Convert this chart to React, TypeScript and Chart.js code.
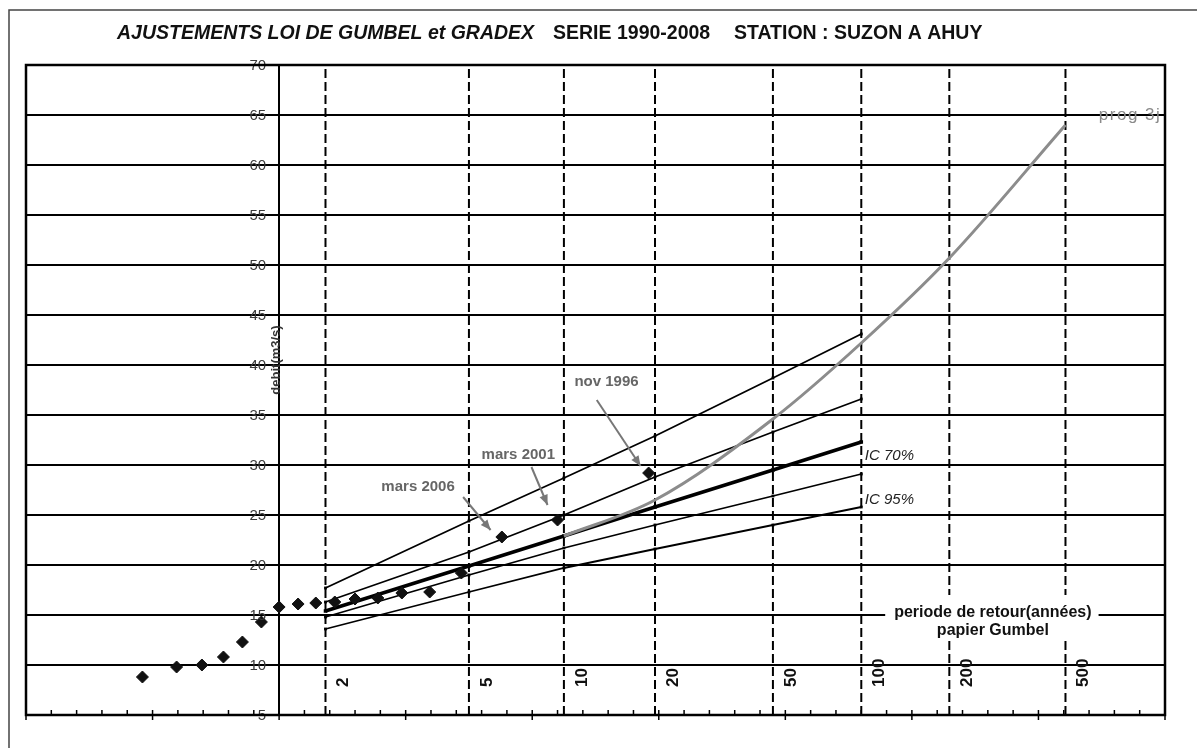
import React, { useEffect, useRef } from 'react';
import { Chart, registerables } from 'chart.js';

Chart.register(...registerables);

// ---------- data ----------
const RETURN_PERIODS = [2, 5, 10, 20, 50, 100, 200, 500];
const RETURN_LABELS = ['2', '5', '10', '20', '50', '100', '200', '500'];

// observed annual maxima (Gumbel reduced variable, discharge m3/s)
const OBS_U = [-1.08, -0.81, -0.61, -0.44, -0.29, -0.14, 0.0, 0.15, 0.29, 0.44, 0.6, 0.78, 0.97, 1.19, 1.44, 1.76, 2.2, 2.92];
const OBS_Q = [8.8, 9.8, 10.0, 10.8, 12.3, 14.3, 15.8, 16.1, 16.2, 16.3, 16.6, 16.7, 17.2, 17.3, 19.2, 22.8, 24.5, 29.2];

// Gumbel fit and confidence intervals, at return periods
const FIT_T = [2, 5, 10, 20, 50, 100];
const FIT_Q = [15.4, 19.9, 22.9, 25.8, 29.5, 32.3];
const IC70_UP = [16.3, 21.3, 25.0, 28.8, 33.3, 36.6];
const IC70_LOW = [14.8, 19.0, 21.7, 24.0, 26.9, 29.1];
const IC95_UP = [17.7, 24.4, 28.7, 32.9, 38.7, 43.1];
const IC95_LOW = [13.6, 17.3, 19.7, 21.6, 24.0, 25.8];

// Gradex extrapolation ("prog 3j")
const GRADEX_T = [10, 20, 50, 100, 200, 500];
const GRADEX_Q = [22.9, 26.5, 34.6, 42.2, 50.7, 64.0];

const Y_MIN = 5;
const Y_MAX = 70;
const Y_STEP = 5;
const X_MIN = -2;
const X_MAX = 7;
const X_MINOR = 0.2;

const EVENT_NOTES = [
  { text: 'nov 1996', at: [2.587, 38.3], from: [2.51, 36.5], to: [2.856, 29.9] },
  { text: 'mars 2001', at: [1.89, 31.0], from: [1.994, 29.8], to: [2.121, 26.0] },
  { text: 'mars 2006', at: [1.098, 27.8], from: [1.454, 26.8], to: [1.671, 23.5] },
];

const FONT = '"Liberation Sans", Arial, Helvetica, sans-serif';

const gumbelU = (T: number) => -Math.log(-Math.log(1 - 1 / T));
const pts = (us: number[], qs: number[]) => us.map((u, i) => ({ x: u, y: qs[i] }));

const decorPlugin = {
  id: 'decor',
  afterDatasetsDraw(chart: any) {
    const { ctx, chartArea: a } = chart;
    const xs = chart.scales.x;
    const ys = chart.scales.y;
    const X = (v: number) => xs.getPixelForValue(v);
    const Y = (v: number) => ys.getPixelForValue(v);
    ctx.save();

    // y tick labels, left of the axis drawn at x = 0
    ctx.font = `15px ${FONT}`;
    ctx.fillStyle = '#3a3a3a';
    ctx.textAlign = 'right';
    ctx.textBaseline = 'middle';
    ys.ticks.forEach((t: any) => {
      ctx.fillText(String(t.value), X(0) - 13, Y(t.value) + 1);
    });

    // plot frame
    ctx.strokeStyle = '#000';
    ctx.lineWidth = 2.5;
    ctx.strokeRect(a.left, a.top, a.right - a.left, a.bottom - a.top);

    // bottom axis tick marks
    ctx.lineWidth = 1.5;
    const nTicks = Math.round((X_MAX - X_MIN) / X_MINOR);
    for (let k = 0; k <= nTicks; k++) {
      const u = X_MIN + k * X_MINOR;
      const px = X(u);
      const major = k % 5 === 0;
      ctx.beginPath();
      ctx.moveTo(px, a.bottom - 5);
      ctx.lineTo(px, major ? a.bottom + 5 : a.bottom);
      ctx.stroke();
    }

    // return period labels (rotated)
    ctx.fillStyle = '#111';
    ctx.font = `bold 17px ${FONT}`;
    ctx.textAlign = 'left';
    ctx.textBaseline = 'middle';
    RETURN_PERIODS.forEach((T, i) => {
      ctx.save();
      ctx.translate(X(gumbelU(T)) + 18, Y(7.8));
      ctx.rotate(-Math.PI / 2);
      ctx.fillText(RETURN_LABELS[i], 0, 0);
      ctx.restore();
    });

    // axis caption box
    const cx = X(5.64);
    const l1y = Y(15.2);
    const l2y = Y(13.4);
    ctx.font = `bold 16px ${FONT}`;
    const w1 = ctx.measureText('periode de retour(années)').width;
    ctx.fillStyle = '#fff';
    ctx.fillRect(cx - w1 / 2 - 9, l1y - 18, w1 + 16, l2y - l1y + 27);
    ctx.fillStyle = '#111';
    ctx.textAlign = 'center';
    ctx.fillText('periode de retour(années)', cx, l1y);
    ctx.fillText('papier Gumbel', cx, l2y);

    // IC labels
    ctx.font = `italic 15px ${FONT}`;
    ctx.fillStyle = '#222';
    ctx.textAlign = 'left';
    ctx.fillText('IC 70%', X(4.628), Y(30.9));
    ctx.fillText('IC 95%', X(4.628), Y(26.5));

    // event notes with arrows
    EVENT_NOTES.forEach((n) => {
      ctx.font = `bold 15px ${FONT}`;
      ctx.fillStyle = '#666';
      ctx.textAlign = 'center';
      ctx.fillText(n.text, X(n.at[0]), Y(n.at[1]));
      const x1 = X(n.from[0]);
      const y1 = Y(n.from[1]);
      const x2 = X(n.to[0]);
      const y2 = Y(n.to[1]);
      ctx.strokeStyle = '#777';
      ctx.lineWidth = 2;
      ctx.beginPath();
      ctx.moveTo(x1, y1);
      ctx.lineTo(x2, y2);
      ctx.stroke();
      const ang = Math.atan2(y2 - y1, x2 - x1);
      const hl = 11;
      ctx.fillStyle = '#777';
      ctx.beginPath();
      ctx.moveTo(x2, y2);
      ctx.lineTo(x2 - hl * Math.cos(ang - 0.4), y2 - hl * Math.sin(ang - 0.4));
      ctx.lineTo(x2 - hl * Math.cos(ang + 0.4), y2 - hl * Math.sin(ang + 0.4));
      ctx.closePath();
      ctx.fill();
    });

    // prog 3j label, clipped to plot area
    ctx.save();
    ctx.beginPath();
    ctx.rect(a.left, a.top, a.right - a.left, a.bottom - a.top);
    ctx.clip();
    ctx.font = `17px ${FONT}`;
    try { (ctx as any).letterSpacing = '1.5px'; } catch (e) { /* ignore */ }
    ctx.fillStyle = '#8a8a8a';
    ctx.textAlign = 'left';
    ctx.textBaseline = 'middle';
    ctx.fillText('prog 3j', X(6.477), Y(65.0));
    ctx.restore();

    // y axis title
    ctx.save();
    ctx.translate(X(-0.02), Y(40.5));
    ctx.rotate(-Math.PI / 2);
    ctx.font = `bold 13px ${FONT}`;
    ctx.fillStyle = '#333';
    ctx.textAlign = 'center';
    ctx.textBaseline = 'middle';
    ctx.fillText('debit(m3/s)', 0, 0);
    ctx.restore();

    ctx.restore();
  },
  afterDraw(chart: any) {
    const { ctx, width, height } = chart;
    ctx.save();
    // outer page frame
    ctx.strokeStyle = '#444';
    ctx.lineWidth = 1.5;
    ctx.beginPath();
    ctx.moveTo(9, height);
    ctx.lineTo(9, 10);
    ctx.lineTo(width, 10);
    ctx.stroke();
    // title
    ctx.fillStyle = '#111';
    ctx.textBaseline = 'middle';
    ctx.textAlign = 'left';
    ctx.font = `italic bold 19.5px ${FONT}`;
    ctx.fillText('AJUSTEMENTS LOI DE GUMBEL et GRADEX', 117, 34);
    ctx.font = `bold 19.5px ${FONT}`;
    ctx.fillText('SERIE 1990-2008', 553, 34);
    ctx.fillText('STATION : SUZON A AHUY', 734, 34);
    ctx.restore();
  },
};

export default function App() {
  const canvasRef = useRef<HTMLCanvasElement | null>(null);

  useEffect(() => {
    if (!canvasRef.current) return;
    const fitU = FIT_T.map(gumbelU);
    const lineDs = (label: string, qs: number[], width: number, radius: number) => ({
      label,
      data: pts(fitU, qs),
      showLine: true,
      borderColor: '#000',
      backgroundColor: '#000',
      borderWidth: width,
      pointStyle: 'rect',
      pointRadius: radius,
      pointBorderWidth: 0,
    });
    const dashed = RETURN_PERIODS.map((T) => ({
      label: `T${T}`,
      data: [
        { x: gumbelU(T), y: Y_MIN },
        { x: gumbelU(T), y: Y_MAX },
      ],
      showLine: true,
      borderColor: '#000',
      borderWidth: 2,
      borderDash: [9, 4],
      pointRadius: 0,
    }));

    const chart = new Chart(canvasRef.current, {
      type: 'scatter',
      data: {
        datasets: [
          {
            label: 'observed',
            data: pts(OBS_U, OBS_Q),
            showLine: false,
            pointStyle: 'rectRot',
            pointRadius: 6,
            backgroundColor: '#111',
            borderColor: '#111',
            borderWidth: 1,
          },
          {
            label: 'prog 3j',
            data: pts(GRADEX_T.map(gumbelU), GRADEX_Q),
            showLine: true,
            borderColor: '#8c8c8c',
            borderWidth: 3,
            pointRadius: 0,
            cubicInterpolationMode: 'monotone',
          },
          lineDs('Gumbel', FIT_Q, 3.5, 2.5),
          lineDs('IC70 sup', IC70_UP, 1.8, 2),
          lineDs('IC70 inf', IC70_LOW, 1.8, 2),
          lineDs('IC95 sup', IC95_UP, 1.8, 2),
          lineDs('IC95 inf', IC95_LOW, 1.8, 2),
          ...dashed,
        ] as any,
      },
      options: {
        responsive: false,
        animation: false,
        events: [],
        layout: { padding: { left: 26, top: 65, right: 32, bottom: 33 }, autoPadding: false },
        plugins: {
          legend: { display: false },
          tooltip: { enabled: false },
          title: { display: false },
        },
        scales: {
          x: { type: 'linear', min: X_MIN, max: X_MAX, display: false },
          y: {
            type: 'linear',
            min: Y_MIN,
            max: Y_MAX,
            position: { x: 0 } as any,
            ticks: { stepSize: Y_STEP, display: false },
            grid: { color: '#000', lineWidth: 2, drawTicks: false },
            border: { display: true, color: '#000', width: 2 },
          },
        },
      } as any,
      plugins: [decorPlugin],
    });
    return () => chart.destroy();
  }, []);

  return (
    <div style={{ position: 'absolute', left: 0, top: 0, width: 1197, height: 748, background: '#fff' }}>
      <canvas ref={canvasRef} width={1197} height={748} style={{ display: 'block', width: 1197, height: 748 }} />
    </div>
  );
}
